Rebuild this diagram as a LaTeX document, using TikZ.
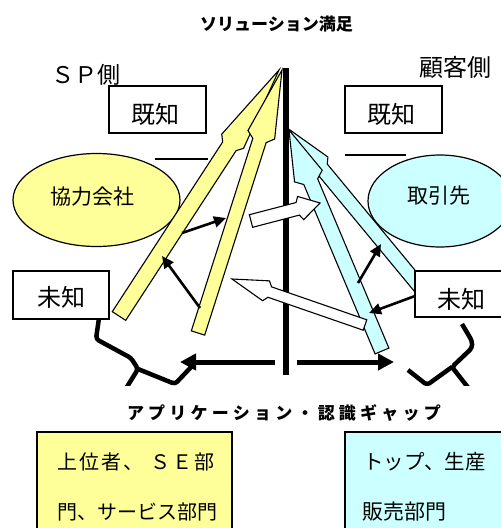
\documentclass[tikz,border=0pt]{standalone}
\usepackage{fontspec}
\setmainfont{Noto Sans CJK JP}
\usetikzlibrary{arrows.meta,calc,shapes.geometric}
\definecolor{yel}{HTML}{FFFF99}
\definecolor{cya}{HTML}{CCFFFF}
\newcommand\fs[1]{\fontsize{#1}{#1}\selectfont}
\newdimen\spk
\def\spx#1{\ifx#1\relax\else#1\kern\spk\expandafter\spx\fi}
% block arrow: style, tail, tip, half shaft width, half head width, head length, neck distance
\newcommand\blockarr[7]{%
  \coordinate (#2-b) at ($(#3)!#6!(#2)$);
  \coordinate (#2-n) at ($(#3)!#7!(#2)$);
  \path[#1] ($(#2)!#4!90:(#3)$) -- ($(#2-n)!#4!90:(#3)$) -- ($(#2-b)!#5!90:(#3)$) -- (#3)
     -- ($(#2-b)!#5!-90:(#3)$) -- ($(#2-n)!#4!-90:(#3)$) -- ($(#2)!#4!-90:(#3)$) -- cycle;
}
\begin{document}
\begin{tikzpicture}[x=1pt,y=-1pt,
  frame/.style={draw=black, line width=1.3pt, fill=white, inner sep=0pt, rectangle},
  lbl/.style={inner sep=0pt},
  oval/.style={draw=black, line width=1.2pt, ellipse, inner sep=0pt},
  yarr/.style={draw=black, line width=1.1pt, fill=yel, line join=miter},
  carr/.style={draw=black, line width=1.1pt, fill=cya, line join=miter},
  warr/.style={draw=black, line width=1.1pt, fill=white, line join=miter},
  sarr/.style={line width=2.6pt, -{Triangle[length=12pt,width=11pt]}},
  harr/.style={line width=5pt, -{Triangle[length=16pt,width=16pt]}},
  bracepath/.style={line width=4.5pt, rounded corners=3pt, line join=round},
  rule/.style={line width=1.2pt}]
\useasboundingbox (0,0) rectangle (501,528);

% ovals
\node[oval, fill=yel, minimum width=167pt, minimum height=93pt] (kyo) at (96.5,200) {};
\node[lbl, font=\fs{21}] (kyot) at (92.5,197) {協力会社};
\node[oval, fill=cya, minimum width=144pt, minimum height=92pt] (tor) at (440,201) {};
\node[lbl, font=\fs{21}] (tort) at (439,196) {取引先};

% short rules
\coordinate (r1a) at (155,159); \coordinate (r1b) at (208,159);
\coordinate (r2a) at (345,155); \coordinate (r2b) at (406,155);
\draw[rule] (r1a) -- (r1b);
\draw[rule] (r2a) -- (r2b);

% vertical axis
\coordinate (vt) at (286,68); \coordinate (vb) at (286,375);
\draw[line width=6pt] (vt) -- (vb);

% yellow arrows
\coordinate (yoT) at (119,316); \coordinate (yoH) at (279,70);
\coordinate (yiT) at (198,333); \coordinate (yiH) at (282,70);
\blockarr{yarr}{yoT}{yoH}{8pt}{13pt}{85pt}{91pt}
\blockarr{yarr}{yiT}{yiH}{7pt}{14pt}{68pt}{74pt}

% cyan arrows
\coordinate (coT) at (424,292); \coordinate (coH) at (290,130);
\coordinate (ciT) at (382,351); \coordinate (ciH) at (289,130);
\blockarr{carr}{coT}{coH}{7pt}{12pt}{45pt}{50pt}
\blockarr{carr}{ciT}{ciH}{7.5pt}{15pt}{50pt}{56pt}

% white arrows
\coordinate (wuT) at (251,221); \coordinate (wuH) at (320,203);
\coordinate (wlT) at (365,325); \coordinate (wlH) at (232,279);
\blockarr{warr}{wuT}{wuH}{6.5pt}{12pt}{20pt}{23pt}
\blockarr{warr}{wlT}{wlH}{5.5pt}{10.5pt}{36pt}{40pt}

% small black arrows
\coordinate (sa1s) at (182,233); \coordinate (sa1e) at (226,218);
\coordinate (sa2s) at (200,308); \coordinate (sa2e) at (162,256);
\coordinate (sa3s) at (358,283); \coordinate (sa3e) at (381,244);
\coordinate (sa4s) at (415,296); \coordinate (sa4e) at (369,313);
\draw[sarr] (sa1s) -- (sa1e);
\draw[sarr] (sa2s) -- (sa2e);
\draw[sarr] (sa3s) -- (sa3e);
\draw[sarr] (sa4s) -- (sa4e);

% horizontal double arrow
\coordinate (hlS) at (275,362); \coordinate (hlE) at (180,362);
\coordinate (hrS) at (297,362); \coordinate (hrE) at (394,362);
\draw[harr] (hlS) -- (hlE);
\draw[harr] (hrS) -- (hrE);

% braces (cut off at the lower edge of the figure)
\begin{scope}
\clip (0,0) rectangle (501,385);
\coordinate (lb1) at (99,318); \coordinate (lb2) at (96,339); \coordinate (lb3) at (131,358);
\coordinate (lbj) at (138,369); \coordinate (lb4) at (122,395); \coordinate (lb5) at (175,384);
\coordinate (lb6) at (194,364);
\draw[bracepath] (lb1) -- (lb2) -- (lb3) -- (lbj) -- (lb4);
\draw[bracepath] (lbj) -- (lb5) -- (lb6);
\coordinate (rb1) at (462,324); \coordinate (rb2) at (472,341); \coordinate (rb3) at (472,348);
\coordinate (rbj) at (452,367); \coordinate (rb4) at (470,390); \coordinate (rb5) at (427,385);
\coordinate (rb6) at (408,370);
\draw[bracepath] (rb1) -- (rb2) -- (rb3) -- (rbj) -- (rb4);
\draw[bracepath] (rbj) -- (rb5) -- (rb6);
\end{scope}

% boxes
\node[frame, minimum width=97pt, minimum height=47pt] (kl) at (157.5,109.5) {};
\node[lbl, font=\fs{24}] (klt) at (155,114) {既知};
\node[frame, minimum width=97pt, minimum height=47pt] (kr) at (393.5,109.5) {};
\node[lbl, font=\fs{24}] (krt) at (391,114) {既知};
\node[frame, minimum width=96pt, minimum height=48pt] (ml) at (61,295) {};
\node[lbl, font=\fs{24}] (mlt) at (61.5,297.5) {未知};
\node[frame, minimum width=100pt, minimum height=46pt] (mr) at (465,294) {};
\node[lbl, font=\fs{24}] (mrt) at (461,299) {未知};

% side labels and titles
\node[lbl, font=\fs{23}] (sp) at (86,75) {ＳＰ側};
\node[lbl, font=\fs{24}] (ko) at (455.5,67) {顧客側};
\node[lbl, font=\fs{17}\bfseries] (title) at (276.5,24) {ソリューション満足};
\node[lbl, font=\fs{17}\bfseries] (gap) at (286,413) {\spk=4.2pt\spx アプリケーション・認識ギャップ\relax};

% bottom boxes
\node[frame, fill=yel, minimum width=195pt, minimum height=110pt] (yb) at (134.5,487) {};
\node[frame, fill=cya, minimum width=165pt, minimum height=110pt] (cb) at (427.5,487) {};
\node[lbl, font=\fs{20}, anchor=west] (yb1) at (57,462) {\spk=2pt\spx 上位者、\relax\hspace{5pt}\spx ＳＥ部\relax};
\node[lbl, font=\fs{20}, anchor=west] (yb2) at (57,512) {門、サービス部門};
\node[lbl, font=\fs{20.5}, anchor=west] (cb1) at (363,462) {トップ、生産};
\node[lbl, font=\fs{21}, anchor=west] (cb2) at (362,512) {販売部門};
\end{tikzpicture}
\end{document}
